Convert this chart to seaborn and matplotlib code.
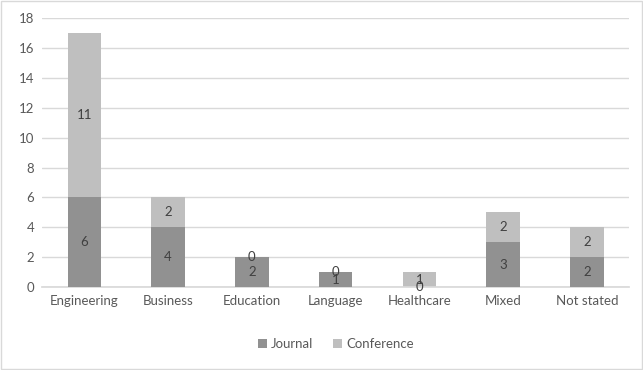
import matplotlib
matplotlib.use('Agg')
import matplotlib.pyplot as plt
import seaborn as sns
import pandas as pd

# Данные
categories = ['Engineering', 'Business', 'Education', 'Language', 'Healthcare', 'Mixed', 'Not stated']
journal = [6, 4, 2, 1, 0, 3, 2]
conference = [11, 2, 0, 0, 1, 2, 2]

journal_color = '#919191'
conference_color = '#bfbfbf'
text_color = '#404040'

sns.set_theme(style='white')
plt.rcParams['font.family'] = ['Lato', 'DejaVu Sans']

df = pd.DataFrame({'category': categories, 'journal': journal, 'conference': conference})
df['total'] = df['journal'] + df['conference']

fig, ax = plt.subplots(figsize=(6.43, 3.70), dpi=100)
fig.subplots_adjust(left=0.066, right=0.978, top=0.951, bottom=0.224)

# Стек: сначала сумма (цвет конференций), поверх журналы
sns.barplot(data=df, x='category', y='total', color=conference_color, width=0.4,
            saturation=1, linewidth=0, ax=ax, zorder=2, label='Conference')
sns.barplot(data=df, x='category', y='journal', color=journal_color, width=0.4,
            saturation=1, linewidth=0, ax=ax, zorder=3, label='Journal')

# Подписи значений
for i, (j, c) in enumerate(zip(journal, conference)):
    ax.text(i, j / 2, str(j), ha='center', va='center', fontsize=9.5, color=text_color, zorder=5)
    ax.text(i, j + c / 2, str(c), ha='center', va='center', fontsize=9.5, color=text_color, zorder=5)

ax.set_ylim(0, 18)
ax.set_yticks(range(0, 19, 2))
ax.set_xlim(-0.5, len(categories) - 0.5)
ax.yaxis.grid(True, color='#d9d9d9', linewidth=1)
ax.set_axisbelow(True)
for s in ['top', 'right', 'left']:
    ax.spines[s].set_visible(False)
ax.spines['bottom'].set_color('#d9d9d9')
ax.tick_params(axis='both', length=0, labelsize=9.5, colors='#595959', pad=6)
ax.set_xlabel('')
ax.set_ylabel('')

handles, labels = ax.get_legend_handles_labels()
order = [labels.index('Journal'), labels.index('Conference')]
ax.legend([handles[k] for k in order], ['Journal', 'Conference'], loc='upper center',
          bbox_to_anchor=(0.5, -0.145), ncol=2, frameon=False, fontsize=9.5,
          handlelength=0.7, handleheight=0.7, handletextpad=0.3, columnspacing=1.5,
          labelcolor='#595959')

# Рамка вокруг всей диаграммы
fig.patches.append(plt.Rectangle((0.001, 0.002), 0.997, 0.995, transform=fig.transFigure,
                                 fill=False, edgecolor='#d9d9d9', linewidth=1))

fig.savefig('out.png', dpi=100, facecolor='white')
